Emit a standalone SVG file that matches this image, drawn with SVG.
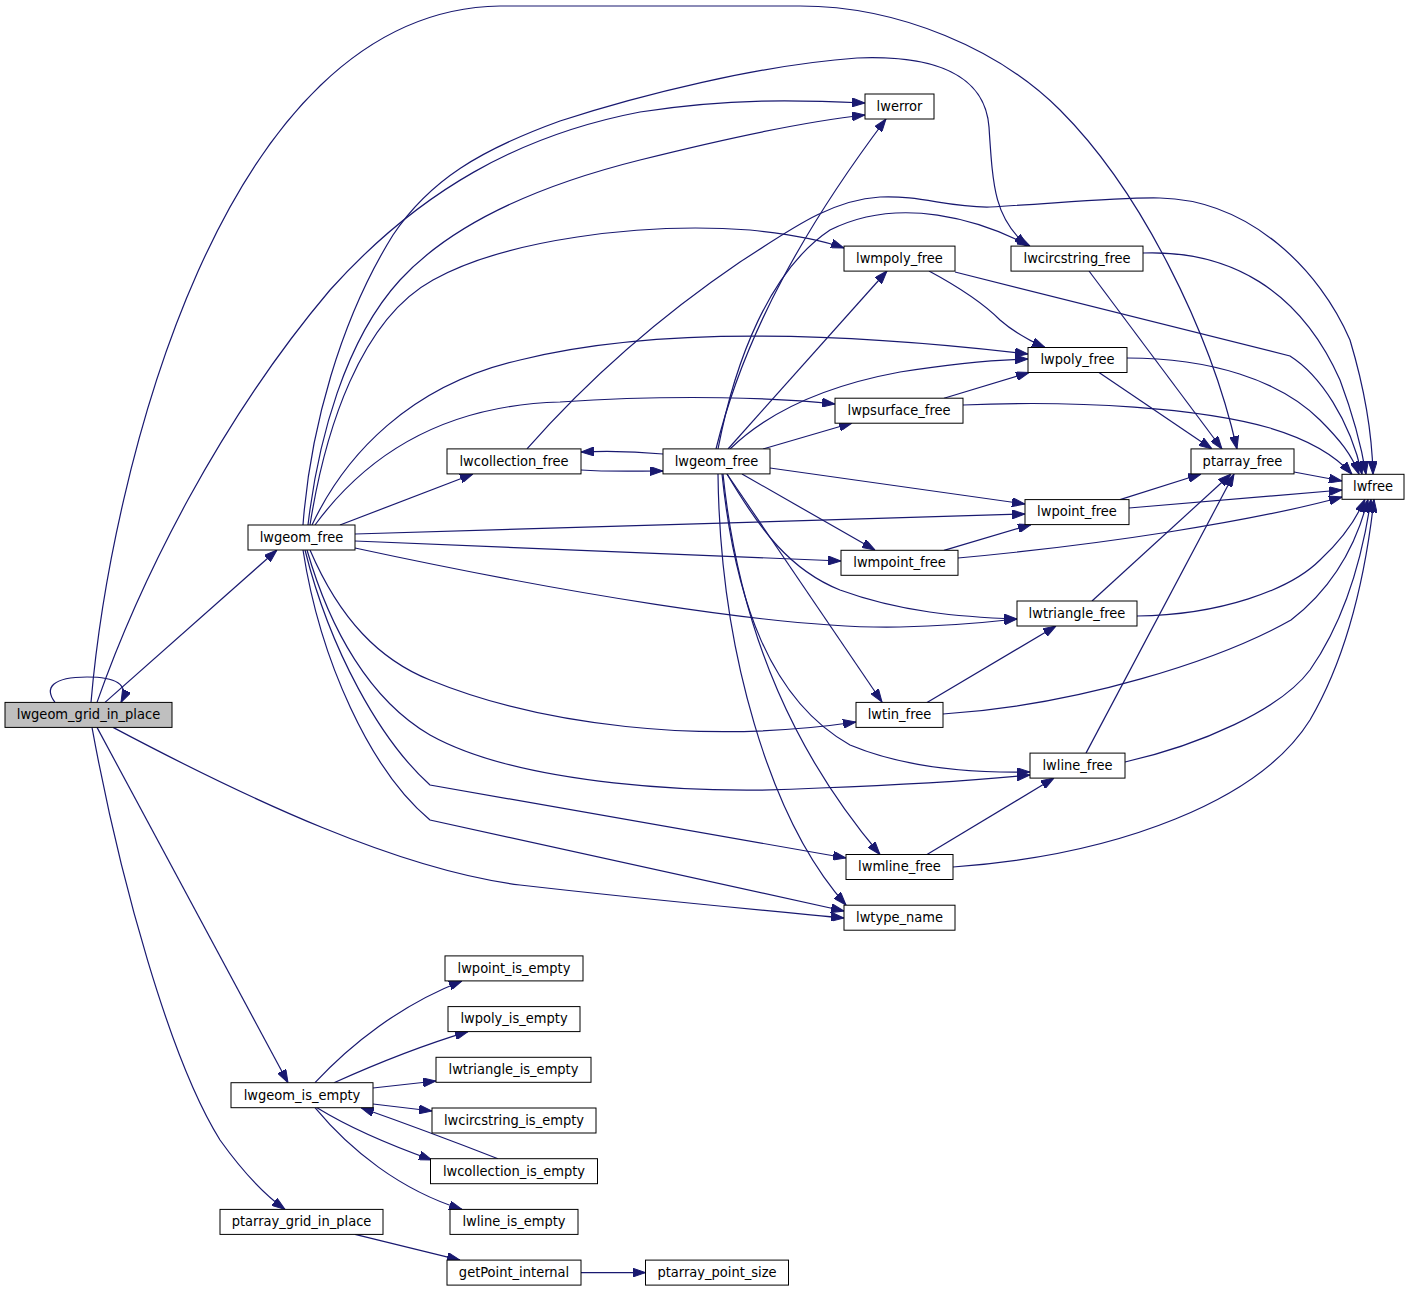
<svg xmlns="http://www.w3.org/2000/svg" width="1408" height="1291" viewBox="0 0 1408 1291">
<style>
.n rect{fill:#fff;stroke:#000;stroke-width:1}
.n.g rect{fill:#bfbfbf}
.n text{font-family:'DejaVu Sans Condensed','DejaVu Sans',sans-serif;font-stretch:condensed;font-size:14.5px;text-anchor:middle;fill:#000}
#edges path{fill:none;stroke:#191970;stroke-width:1.2;marker-end:url(#a)}
</style>
<defs>
<marker id="a" markerWidth="13" markerHeight="9" refX="13" refY="4.5" orient="auto" markerUnits="userSpaceOnUse" viewBox="0 0 13 9"><path d="M0,0 L13,4.5 L0,9 z" fill="#191970" stroke="#191970" stroke-width="1"/></marker>
</defs>
<rect width="1408" height="1291" fill="#fff"/>
<g id="edges">
<path d="M55,702.4 C44,688 52,677 87,677 C115,677 130,684 121,702.4"/>
<path d="M105,702.4 L277,550"/>
<path d="M91,702.4 C110,480 220,10 500,6 L800,6 C900,6 1000,50 1060,110 C1140,190 1210,330 1237,449"/>
<path d="M97,702.4 C140,580 220,420 330,290 C420,190 520,135 640,112 C730,98 800,100 865,103"/>
<path d="M113,727.4 C250,800 400,870 520,885 C650,900 760,910 844,918"/>
<path d="M97,727.4 L288,1082.7"/>
<path d="M92,727.4 C120,880 170,1060 220,1140 C245,1175 265,1195 285,1209.4"/>
<path d="M303,525 C310,430 340,320 393,235 C430,180 480,150 560,121 C640,95 760,65 857,58 C935,55 985,75 989,127 C993,190 995,218 1027,246"/>
<path d="M308,525 C318,440 345,340 400,280 C460,215 560,180 640,160 C720,140 800,122 865,115"/>
<path d="M310,525 C325,430 360,320 433,280 C505,240 640,222 750,230 C800,235 830,243 844,248"/>
<path d="M312,525 C345,455 410,385 520,360 C620,335 780,325 1028,354"/>
<path d="M315,525 C370,450 450,405 560,402 C680,394 780,398 835,404"/>
<path d="M340,525 L473,474"/>
<path d="M355,534 L1025,514"/>
<path d="M355,541 L841,561"/>
<path d="M355,548 C550,590 780,630 900,627 C950,626 990,622 1017,619"/>
<path d="M310,550 C340,620 380,660 430,680 C540,725 700,745 856,722"/>
<path d="M307,550 C330,630 370,700 430,735 C520,785 700,795 820,788 C900,785 980,780 1030,775"/>
<path d="M305,550 C330,650 380,740 430,785 L846,858"/>
<path d="M303,550 C320,660 370,770 430,820 L844,911"/>
<path d="M663,454 C630,451 605,451 581,452"/>
<path d="M581,470 C610,472 635,471 663,471"/>
<path d="M716,449 C745,330 810,220 886,119"/>
<path d="M718,449 C735,360 770,270 830,230 C900,195 980,220 1030,246"/>
<path d="M728,449 L887,271"/>
<path d="M730,449 C770,410 830,385 900,372 C950,364 990,360 1028,359"/>
<path d="M763,449 L852,423"/>
<path d="M770,468 L1025,504"/>
<path d="M742,474 L875,550"/>
<path d="M727,474 C760,530 790,570 840,590 C900,612 960,617 1017,619"/>
<path d="M727,474 L882,702"/>
<path d="M722,474 C735,600 770,700 850,745 C910,770 980,773 1030,772"/>
<path d="M723,474 C740,640 800,760 880,854.5"/>
<path d="M718,474 C720,650 770,820 846,905"/>
<path d="M315,1082.7 C350,1045 400,1005 462,981"/>
<path d="M334,1082.7 C380,1062 420,1046 468,1031.6"/>
<path d="M373,1088 L436,1081"/>
<path d="M373,1104 L432,1111"/>
<path d="M317,1107.7 C350,1128 390,1145 432,1160"/>
<path d="M498,1158.7 C450,1140 410,1125 361,1107.7"/>
<path d="M315,1107.7 C350,1150 400,1190 462,1209.4"/>
<path d="M355,1234.4 L460,1260.1"/>
<path d="M581,1272.6 L645.5,1272.6"/>
<path d="M929,271 C955,285 980,300 1000,320 C1015,333 1030,341 1045,347.5"/>
<path d="M955,272 L1290,356 C1320,375 1350,420 1362,474.3"/>
<path d="M1089,271 L1222,449"/>
<path d="M1143,253 C1230,250 1300,290 1340,380 C1355,420 1362,450 1366,474.3"/>
<path d="M1099,372.5 L1212,449"/>
<path d="M1127,358 C1210,358 1280,380 1320,420 C1340,440 1352,455 1359,474.3"/>
<path d="M944,398.2 L1029,372.5"/>
<path d="M963,405 C1080,400 1200,408 1270,428 C1310,440 1335,455 1352,474.3"/>
<path d="M1120,499.6 L1201,474"/>
<path d="M1129,508 L1342,490"/>
<path d="M1294,472 L1342,481"/>
<path d="M944,550.3 L1031,524.6"/>
<path d="M958,558 C1100,545 1250,522 1342,497"/>
<path d="M1092,601 L1231,474"/>
<path d="M1137,616 C1220,615 1290,590 1320,560 C1345,537 1358,515 1365,499.3"/>
<path d="M927,702.4 L1056,626"/>
<path d="M943,714 C1080,705 1220,660 1291,620 C1330,590 1355,550 1368,499.3"/>
<path d="M1086,753.1 L1234,474"/>
<path d="M1125,762 C1200,745 1280,710 1310,670 C1345,620 1362,560 1371,499.3"/>
<path d="M927,854.5 L1054,778.1"/>
<path d="M953,867 C1120,855 1260,800 1310,720 C1345,660 1365,580 1374,499.3"/>
<path d="M527,448.9 C570,400 640,330 740,262 C790,230 830,200 880,197 C920,195 950,208 990,207 C1060,203 1120,197 1160,198 C1250,200 1320,270 1350,340 C1365,390 1372,430 1373,474.3"/>
</g>
<g id="n_lwgeom_grid_in_place" class="n g"><rect x="5" y="702.4" width="167" height="25"/><text x="88.5" y="719.2">lwgeom_grid_in_place</text></g>
<g id="n_lwgeom_free_1" class="n"><rect x="248" y="525" width="107" height="25"/><text x="301.5" y="541.8">lwgeom_free</text></g>
<g id="n_lwgeom_is_empty" class="n"><rect x="231" y="1082.7" width="142" height="25"/><text x="302" y="1099.5">lwgeom_is_empty</text></g>
<g id="n_ptarray_grid_in_place" class="n"><rect x="220" y="1209.4" width="163" height="25"/><text x="301.5" y="1226.2">ptarray_grid_in_place</text></g>
<g id="n_lwcollection_free" class="n"><rect x="447" y="448.9" width="134" height="25"/><text x="514" y="465.7">lwcollection_free</text></g>
<g id="n_lwpoint_is_empty" class="n"><rect x="445" y="955.9" width="138" height="25"/><text x="514" y="972.7">lwpoint_is_empty</text></g>
<g id="n_lwpoly_is_empty" class="n"><rect x="448" y="1006.6" width="132" height="25"/><text x="514" y="1023.4">lwpoly_is_empty</text></g>
<g id="n_lwtriangle_is_empty" class="n"><rect x="436" y="1057.3" width="155" height="25"/><text x="513.5" y="1074.1">lwtriangle_is_empty</text></g>
<g id="n_lwcircstring_is_empty" class="n"><rect x="432" y="1108" width="164" height="25"/><text x="514" y="1124.8">lwcircstring_is_empty</text></g>
<g id="n_lwcollection_is_empty" class="n"><rect x="430.5" y="1158.7" width="167" height="25"/><text x="514" y="1175.5">lwcollection_is_empty</text></g>
<g id="n_lwline_is_empty" class="n"><rect x="450" y="1209.4" width="128" height="25"/><text x="514" y="1226.2">lwline_is_empty</text></g>
<g id="n_getPoint_internal" class="n"><rect x="447" y="1260.1" width="134" height="25"/><text x="514" y="1276.9">getPoint_internal</text></g>
<g id="n_lwgeom_free_2" class="n"><rect x="663" y="448.9" width="107" height="25"/><text x="716.5" y="465.7">lwgeom_free</text></g>
<g id="n_ptarray_point_size" class="n"><rect x="645.5" y="1260.1" width="143" height="25"/><text x="717" y="1276.9">ptarray_point_size</text></g>
<g id="n_lwerror" class="n"><rect x="865" y="94" width="69" height="25"/><text x="899.5" y="110.8">lwerror</text></g>
<g id="n_lwmpoly_free" class="n"><rect x="844" y="246.1" width="111" height="25"/><text x="899.5" y="262.9">lwmpoly_free</text></g>
<g id="n_lwpsurface_free" class="n"><rect x="835" y="398.2" width="128" height="25"/><text x="899" y="415">lwpsurface_free</text></g>
<g id="n_lwmpoint_free" class="n"><rect x="841" y="550.3" width="117" height="25"/><text x="899.5" y="567.1">lwmpoint_free</text></g>
<g id="n_lwtin_free" class="n"><rect x="856" y="702.4" width="87" height="25"/><text x="899.5" y="719.2">lwtin_free</text></g>
<g id="n_lwmline_free" class="n"><rect x="846" y="854.5" width="107" height="25"/><text x="899.5" y="871.3">lwmline_free</text></g>
<g id="n_lwtype_name" class="n"><rect x="844" y="905.2" width="111" height="25"/><text x="899.5" y="922">lwtype_name</text></g>
<g id="n_lwcircstring_free" class="n"><rect x="1011" y="246.1" width="132" height="25"/><text x="1077" y="262.9">lwcircstring_free</text></g>
<g id="n_lwpoly_free" class="n"><rect x="1028" y="347.5" width="99" height="25"/><text x="1077.5" y="364.3">lwpoly_free</text></g>
<g id="n_lwpoint_free" class="n"><rect x="1025" y="499.6" width="104" height="25"/><text x="1077" y="516.4">lwpoint_free</text></g>
<g id="n_lwtriangle_free" class="n"><rect x="1017" y="601" width="120" height="25"/><text x="1077" y="617.8">lwtriangle_free</text></g>
<g id="n_lwline_free" class="n"><rect x="1030" y="753.1" width="95" height="25"/><text x="1077.5" y="769.9">lwline_free</text></g>
<g id="n_ptarray_free" class="n"><rect x="1191" y="448.9" width="103" height="25"/><text x="1242.5" y="465.7">ptarray_free</text></g>
<g id="n_lwfree" class="n"><rect x="1342" y="474.3" width="62" height="25"/><text x="1373" y="491.1">lwfree</text></g>
</svg>
